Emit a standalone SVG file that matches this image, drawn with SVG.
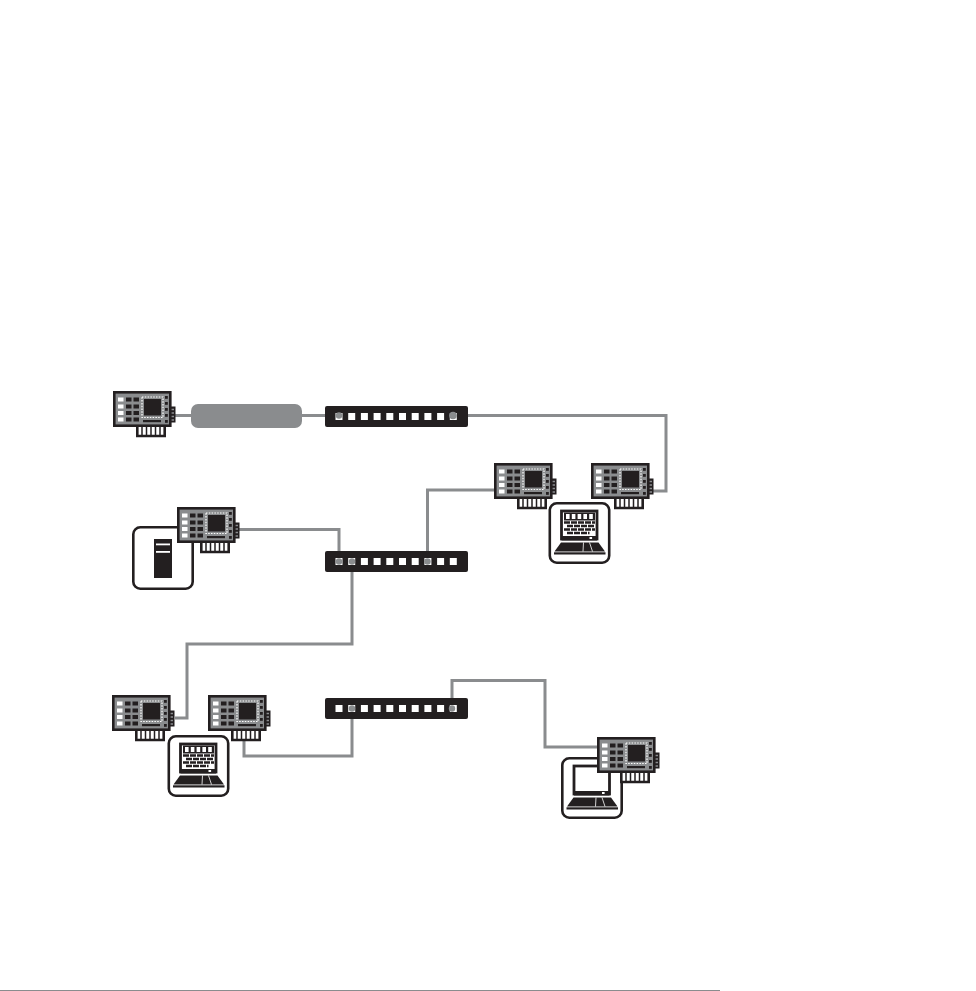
<svg xmlns="http://www.w3.org/2000/svg" width="976" height="991" viewBox="0 0 976 991">
<style>
.k{fill:#231f20}.w{fill:#fff}.g{fill:#8a8c8e}
.wire{fill:none;stroke:#8a8c8e;stroke-width:3}
.frame{fill:#fff;stroke:#231f20;stroke-width:2.6}
</style>
<defs>
<g id="card">
<rect class="w" x="24" y="32" width="28" height="13"/>
<path d="M24.300 33V45H51.700V33" fill="none" stroke="#231f20" stroke-width="2.600"/>
<path d="M29 36V44M33.500 36V44M38 36V44M42.500 36V44M47 36V44" stroke="#231f20" stroke-width="1.500"/>
<rect class="k" x="56" y="15.500" width="6.500" height="16"/>
<path d="M58 18.500H61M58 22H61M58 25.500H61M58 29H61" stroke="#8a8c8e" stroke-width="1.600"/>
<rect class="g" x="1.300" y="1.300" width="56" height="33.400" stroke="#231f20" stroke-width="2.600"/>
<rect class="k" x="31" y="8" width="17" height="16.500"/>
<rect x="29" y="6" width="21" height="20.500" fill="none" stroke="#fff" stroke-width="1.200" stroke-dasharray="1.500 1.300"/>
<rect class="k" x="30" y="29" width="18" height="2.200"/>
<g class="w"><rect x="5" y="6.500" width="5.500" height="4"/><rect x="5" y="13.500" width="5.500" height="4"/><rect x="5" y="20" width="5.500" height="4"/><rect x="5" y="26.500" width="5.500" height="4"/></g>
<g class="k"><rect x="13" y="6.500" width="5.500" height="4"/><rect x="20.500" y="6.500" width="5.500" height="4"/><rect x="13" y="13.500" width="5.500" height="4"/><rect x="20.500" y="13.500" width="5.500" height="4"/><rect x="13" y="20" width="5.500" height="4"/><rect x="20.500" y="20" width="5.500" height="4"/><rect x="13" y="26.500" width="5.500" height="4"/><rect x="20.500" y="26.500" width="5.500" height="4"/>
<rect x="52" y="5" width="2.800" height="2.800"/><rect x="52" y="11" width="2.800" height="2.800"/><rect x="52" y="17" width="2.800" height="2.800"/><rect x="52" y="23" width="2.800" height="2.800"/><rect x="52" y="29" width="2.800" height="2.800"/></g>
</g>
<g id="sw">
<rect class="k" x="0" y="0" width="143" height="21" rx="2"/>
<g class="w"><rect x="10.500" y="7" width="7" height="7"/><rect x="23.200" y="7" width="7" height="7"/><rect x="35.900" y="7" width="7" height="7"/><rect x="48.600" y="7" width="7" height="7"/><rect x="61.300" y="7" width="7" height="7"/><rect x="74" y="7" width="7" height="7"/><rect x="86.700" y="7" width="7" height="7"/><rect x="99.400" y="7" width="7" height="7"/><rect x="112.100" y="7" width="7" height="7"/><rect x="124.800" y="7" width="7" height="7"/></g>
</g>
<g id="lap">
<rect class="frame" x="1.300" y="1.300" width="59.400" height="59.400" rx="7"/>
<rect x="13" y="9" width="35.500" height="28" fill="#fff" stroke="#231f20" stroke-width="2.800"/>
<rect class="k" x="13" y="34" width="35.500" height="4.500"/>
<rect class="w" x="41" y="35" width="2.600" height="2"/>
<path class="k" d="M6 49.500L12.500 40.500H50L56.500 49.500Z"/>
<path d="M35 40.500L34.500 49.500M41 40.500L44 49.500" stroke="#fff" stroke-width="0.800" fill="none"/>
<rect class="k" x="5.500" y="50.300" width="51.500" height="2.200"/>
</g>
<g id="bricks">
<rect class="k" x="15.500" y="10.500" width="31" height="8"/>
<g class="w"><rect x="17.500" y="12" width="3.600" height="5"/><rect x="23.300" y="12" width="3.600" height="5"/><rect x="29.100" y="12" width="3.600" height="5"/><rect x="34.900" y="12" width="3.600" height="5"/><rect x="40.700" y="12" width="3.600" height="5"/></g>
<path d="M15.500 20.500H46.500M15.500 27.500H46.500" stroke="#231f20" stroke-width="2.400" stroke-dasharray="6 1"/>
<path d="M18.500 24H46.500M18.500 31H41" stroke="#231f20" stroke-width="2.400" stroke-dasharray="6 1"/>
</g>
</defs>

<g id="connectors">
<path class="wire" d="M175 415.500H192M301 415.500H339"/>
<path class="wire" d="M453 415.500H666V491H652"/>
<path class="wire" d="M238 529.500H339V561"/>
<path class="wire" d="M427.500 561V490H494"/>
<path class="wire" d="M352 561V644H187V718H175"/>
<path class="wire" d="M352 708V756H244V737"/>
<path class="wire" d="M452 708V680.500H545V747H597"/>
</g>

<g id="switch-1"><use href="#sw" x="325" y="406"/><circle class="g" cx="339" cy="415.500" r="3.200"/><circle class="g" cx="453" cy="415.500" r="3.800"/></g>
<g id="switch-2"><use href="#sw" x="325" y="551"/><circle class="g" cx="339" cy="561.500" r="3.200"/><circle class="g" cx="352" cy="561.500" r="3.200"/><circle class="g" cx="427.500" cy="561.500" r="3.200"/></g>
<g id="switch-3"><use href="#sw" x="325" y="698"/><circle class="g" cx="352" cy="708.500" r="3.200"/><circle class="g" cx="452" cy="708.500" r="3.200"/></g>

<g id="cloud"><rect class="g" x="191" y="404" width="111" height="24" rx="7"/></g>

<g id="card-1"><use href="#card" x="113" y="391"/></g>

<g id="laptop-firewall-1"><use href="#lap" x="548.500" y="502"/><use href="#bricks" x="548.500" y="502"/></g>
<g id="card-2"><use href="#card" x="494" y="463"/></g>
<g id="card-3"><use href="#card" x="591" y="463"/></g>

<g id="server">
<rect class="frame" x="133.300" y="527.300" width="59.400" height="61.400" rx="7"/>
<rect class="k" x="154" y="539" width="18" height="39"/>
<rect class="w" x="156" y="543.500" width="14" height="1.800"/>
<rect class="w" x="156" y="551" width="14" height="1.800"/>
</g>
<g id="card-4"><use href="#card" x="177" y="507"/></g>

<g id="card-5"><use href="#card" x="112" y="695"/></g>
<g id="laptop-firewall-2"><use href="#lap" x="167.500" y="735"/><use href="#bricks" x="167.500" y="735"/></g>
<g id="card-6"><use href="#card" x="208" y="695"/></g>

<g id="laptop"><use href="#lap" x="561" y="757"/></g>
<g id="card-7"><use href="#card" x="597" y="737"/></g>

<rect id="rule" x="0" y="990" width="720" height="1" fill="#8a8c8e"/>
</svg>
